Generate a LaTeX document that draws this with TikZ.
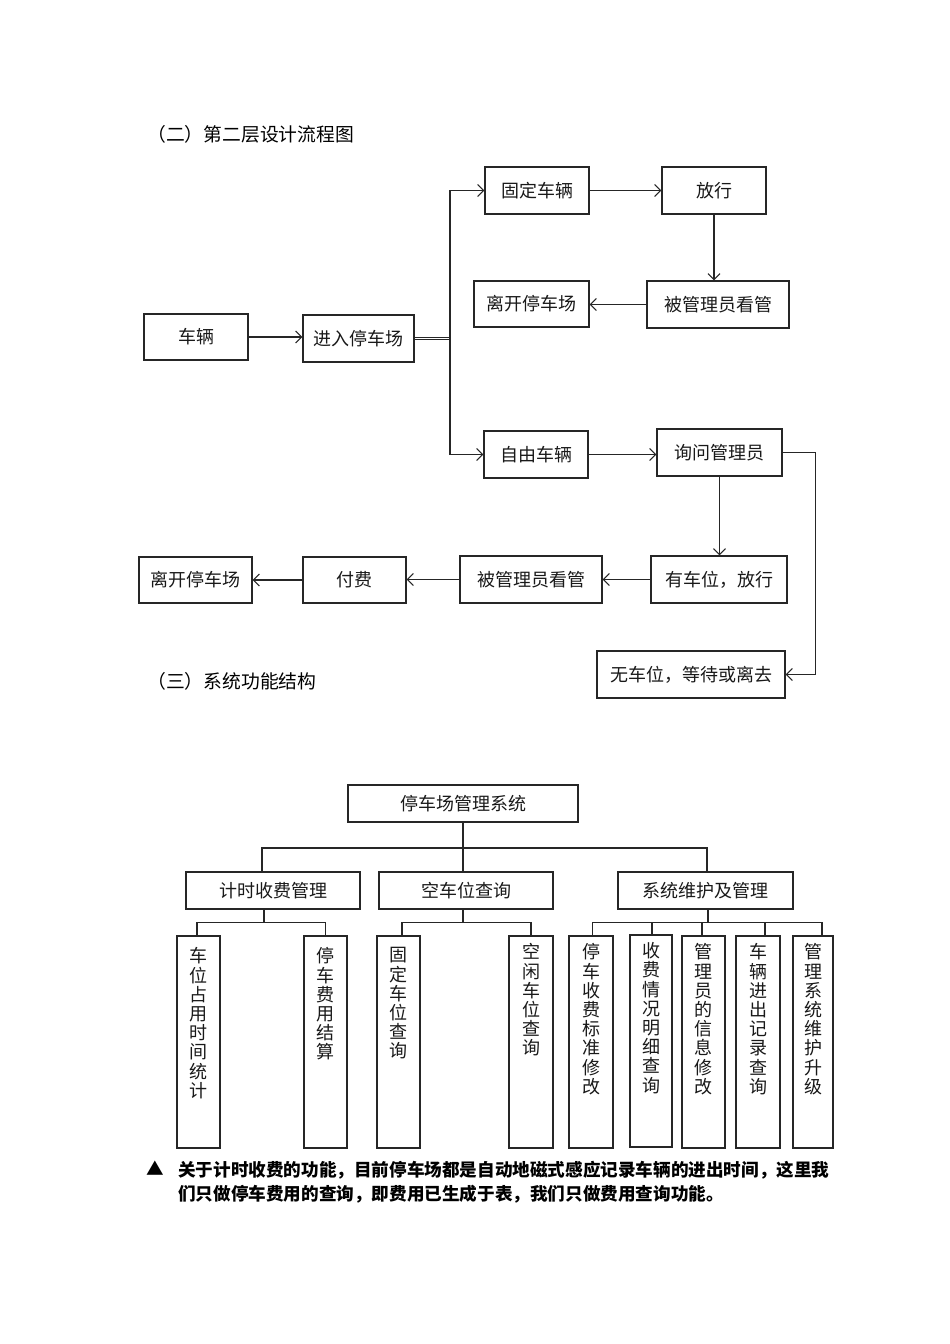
\documentclass[tikz,border=0pt]{standalone}
\usepackage{fontspec}
\newfontfamily\cjk{Noto Sans CJK SC}
\usetikzlibrary{arrows.meta}
\tikzset{
  box/.style={draw=black!85, line width=1.2pt, inner sep=0pt, font=\cjk\fontsize{18}{20}\selectfont, text=black!90},
  leaf/.style={draw=black!85, line width=1.2pt, inner sep=0pt, minimum width=43pt, minimum height=212pt},
  leaftext/.style={anchor=north, inner sep=0pt, align=center, font=\cjk\fontsize{18}{19.2}\selectfont, text=black!90},
  conn/.style={draw=black!85, line width=1.1pt},
  arr/.style={conn, -{Straight Barb[length=6pt,width=12pt,line width=1.1pt]}},
  heading/.style={anchor=west, inner sep=0pt, font=\cjk\fontsize{18.8}{20}\selectfont},
  note/.style={anchor=west, inner sep=0pt, font=\cjk\bfseries\fontsize{17.6}{20}\selectfont}
}
\begin{document}
\begin{tikzpicture}[x=1pt,y=-1pt]
\useasboundingbox[fill=white] (0,0) rectangle (950,1344);

% ---------- headings ----------
\node[heading] (h2) at (147,134) {（二）第二层设计流程图};
\node[heading] (h3) at (147,681) {（三）系统功能结构};

% ---------- flow chart ----------
\node[box, minimum width=104pt, minimum height=46pt] (car) at (196,337) {车辆};
\node[box, minimum width=111pt, minimum height=47pt] (enter) at (358.5,338.5) {进入停车场};
\node[box, minimum width=104pt, minimum height=47pt] (fixed) at (537,190.5) {固定车辆};
\node[box, minimum width=104pt, minimum height=47pt] (rel1) at (714,190.5) {放行};
\node[box, minimum width=142pt, minimum height=47pt] (watch1) at (718,304.5) {被管理员看管};
\node[box, minimum width=115pt, minimum height=46pt] (leave1) at (531.5,304) {离开停车场};
\node[box, minimum width=104pt, minimum height=47pt] (free) at (536,454.5) {自由车辆};
\node[box, minimum width=125pt, minimum height=47pt] (ask) at (719.5,452.5) {询问管理员};
\node[box, minimum width=136pt, minimum height=47pt] (have) at (719,579.5) {有车位，放行};
\node[box, minimum width=142pt, minimum height=47pt] (watch2) at (531,579.5) {被管理员看管};
\node[box, minimum width=103pt, minimum height=46pt] (pay) at (354.5,580) {付费};
\node[box, minimum width=113pt, minimum height=46pt] (leave2) at (195.5,580) {离开停车场};
\node[box, minimum width=188pt, minimum height=47pt] (none) at (691,674.5) {无车位，等待或离去};

\coordinate (j) at (450,338);
\draw[arr] (car.east) -- (car.east -| enter.west);
\draw[conn, line width=0.8pt] ([yshift=1.3pt]enter.east) -- ([yshift=1.3pt]enter.east -| j);
\draw[conn, line width=0.8pt] ([yshift=-1.3pt]enter.east) -- ([yshift=-1.3pt]enter.east -| j);
\draw[arr] (j) |- (fixed.west);
\draw[arr] (j) |- (free.west);
\draw[arr] (fixed) -- (rel1);
\draw[arr] (rel1.south) -- (rel1.south |- watch1.north);
\draw[arr] (watch1.west) -- (watch1.west -| leave1.east);
\draw[arr] (free.east) -- (free.east -| ask.west);
\draw[arr] (ask.south) -- (ask.south |- have.north);
\draw[arr] (ask.east) -- ++(33,0) |- (none.east);
\draw[arr] (have.west) -- (have.west -| watch2.east);
\draw[arr] (watch2.west) -- (watch2.west -| pay.east);
\draw[arr] (pay.west) -- (pay.west -| leave2.east);

% ---------- structure tree ----------
\node[box, minimum width=230pt, minimum height=37pt] (root) at (463,803.5) {停车场管理系统};
\node[box, minimum width=174pt, minimum height=37pt] (t1) at (273,890.5) {计时收费管理};
\node[box, minimum width=174pt, minimum height=37pt] (t2) at (466,890.5) {空车位查询};
\node[box, minimum width=175pt, minimum height=37pt] (t3) at (705.5,890.5) {系统维护及管理};

\node[leaf] (L1) at (198.5,1042) {};
\node[leaf] (L2) at (325.5,1042) {};
\node[leaf] (L3) at (398.5,1042) {};
\node[leaf, minimum width=44pt] (L4) at (531,1042) {};
\node[leaf, minimum width=44pt] (L5) at (591,1042) {};
\node[leaf, minimum width=42pt] (L6) at (651,1041) {};
\node[leaf] (L7) at (703.5,1042) {};
\node[leaf, minimum width=44pt] (L8) at (758,1042) {};
\node[leaf, minimum width=40pt] (L9) at (813,1042) {};

\node[leaftext] (T1) at ([yshift=-12pt]L1.north) {车\\位\\占\\用\\时\\间\\统\\计};
\node[leaftext] (T2) at ([yshift=-12pt]L2.north) {停\\车\\费\\用\\结\\算};
\node[leaftext] (T3) at ([yshift=-12pt]L3.north) {固\\定\\车\\位\\查\\询};
\node[leaftext] (T4) at ([yshift=-8pt]L4.north) {空\\闲\\车\\位\\查\\询};
\node[leaftext] (T5) at ([yshift=-8pt]L5.north) {停\\车\\收\\费\\标\\准\\修\\改};
\node[leaftext] (T6) at ([yshift=-8pt]L6.north) {收\\费\\情\\况\\明\\细\\查\\询};
\node[leaftext] (T7) at ([yshift=-8pt]L7.north) {管\\理\\员\\的\\信\\息\\修\\改};
\node[leaftext] (T8) at ([yshift=-8pt]L8.north) {车\\辆\\进\\出\\记\\录\\查\\询};
\node[leaftext] (T9) at ([yshift=-8pt]L9.north) {管\\理\\系\\统\\维\\护\\升\\级};

\coordinate (b0) at (463,848);
\draw[conn] (root.south) -- (b0);
\draw[conn] ([xshift=-11pt]t1.north) |- (b0) -| ([xshift=1.5pt]t3.north);
\draw[conn] (b0) -- (b0 |- t2.north);

\draw[conn] ([xshift=-9pt]t1.south) -- ++(0,13) coordinate (b1);
\draw[conn] ([xshift=-1.5pt]L1.north) |- (b1) -| (L2.north);
\draw[conn] ([xshift=-3pt]t2.south) -- ++(0,13) coordinate (b2);
\draw[conn] ([xshift=3.5pt]L3.north) |- (b2) -| (L4.north);
\draw[conn] ([xshift=2.5pt]t3.south) -- ++(0,13) coordinate (b3);
\draw[conn] ([xshift=1.5pt]L5.north) |- (b3) -| ([xshift=9pt]L9.north);
\draw[conn] ([xshift=1pt]L6.north) |- (b3);
\draw[conn] ([xshift=-1.5pt]L7.north) |- (b3);
\draw[conn] ([xshift=7pt]L8.north) |- (b3);

% ---------- note ----------
\node[note] (tri) at (146,1168) {▲};
\node[note] (n1) at (178,1170) {关于计时收费的功能，目前停车场都是自动地磁式感应记录车辆的进出时间，这里我};
\node[note] (n2) at (178,1194) {们只做停车费用的查询，即费用已生成于表，我们只做费用查询功能。};
\end{tikzpicture}
\end{document}
